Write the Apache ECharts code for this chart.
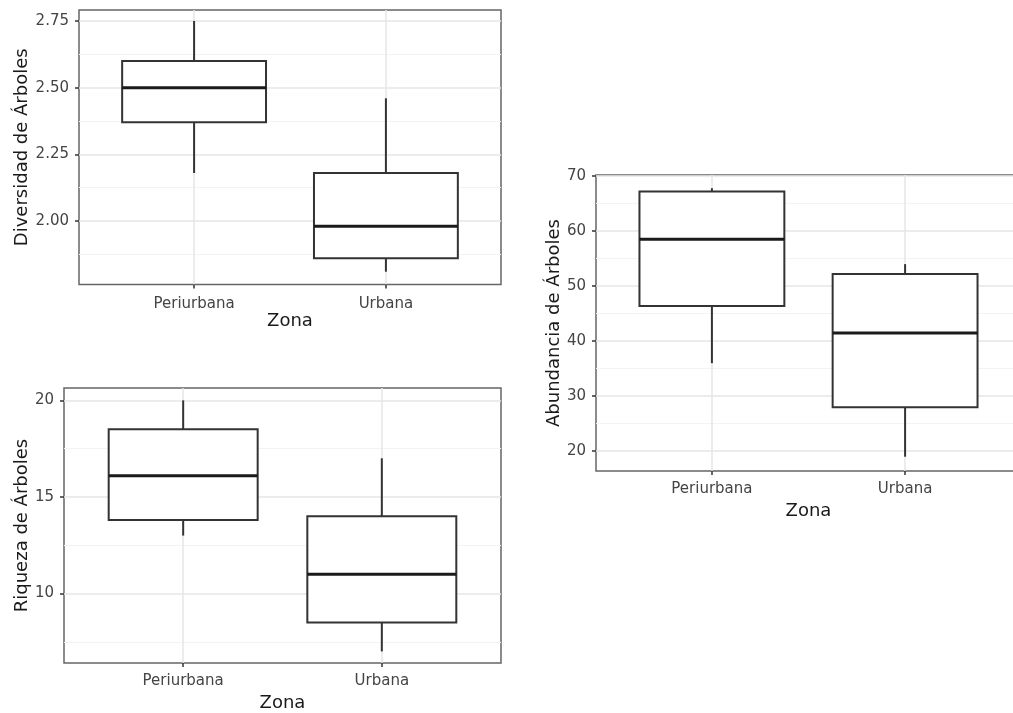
<!DOCTYPE html>
<html><head><meta charset="utf-8">
<script src="https://cdn.jsdelivr.net/npm/echarts@6/dist/echarts.min.js"></script>
<style>html,body{margin:0;padding:0;background:#fff;overflow:hidden}#c{width:1040px;height:713px}</style>
</head><body><div id="c"></div>
<script>
const categories = ['Periurbana', 'Urbana'];
const xTitle = 'Zona';
// each box: [lower whisker, Q1, median, Q3, upper whisker]
const diversidad = [[2.18, 2.37, 2.50, 2.60, 2.75], [1.81, 1.86, 1.98, 2.18, 2.46]];
const riqueza = [[13, 13.8, 16.1, 18.5, 20], [7, 8.5, 11, 14, 17]];
const abundancia = [[36, 46.4, 58.5, 67.2, 67.8], [19, 28, 41.5, 52.2, 54]];
const diversidadTicks = [2.00, 2.25, 2.50, 2.75];
const diversidadMinor = [1.875, 2.125, 2.375, 2.625];
const riquezaTicks = [10, 15, 20];
const riquezaMinor = [7.5, 12.5, 17.5];
const abundanciaTicks = [20, 30, 40, 50, 60, 70];
const abundanciaMinor = [25, 35, 45, 55, 65];

const FONT = 'DejaVu Sans';
const panels = [
  { name: 'Diversidad de Árboles', data: diversidad, ticks: diversidadTicks, minor: diversidadMinor, dec: 2,
    grid: { left: 79, top: 10, width: 422, height: 274.5 }, yMin: 1.762, yMax: 2.791, yGap: 47, xGap: 24, lm: 12 },
  { name: 'Riqueza de Árboles', data: riqueza, ticks: riquezaTicks, minor: riquezaMinor, dec: 0,
    grid: { left: 64, top: 388, width: 437, height: 276 }, yMin: 6.4, yMax: 20.64, yGap: 32, xGap: 31, lm: 11 },
  { name: 'Abundancia de Árboles', data: abundancia, ticks: abundanciaTicks, minor: abundanciaMinor, dec: 0,
    grid: { left: 596, top: 175, width: 425, height: 296 }, yMin: 16.4, yMax: 70.2, yGap: 31, xGap: 31, lm: 11 }
];

function renderBox(params, api) {
  const x = api.value(0);
  const lo = api.coord([x, api.value(1)]);
  const q1 = api.coord([x, api.value(2)]);
  const md = api.coord([x, api.value(3)]);
  const q3 = api.coord([x, api.value(4)]);
  const hi = api.coord([x, api.value(5)]);
  const w = api.size([0.75, 0])[0];
  const cx = lo[0];
  const st = { stroke: '#333333', lineWidth: 2, fill: null };
  return { type: 'group', children: [
    { type: 'line', shape: { x1: cx, y1: hi[1], x2: cx, y2: q3[1] }, style: st },
    { type: 'line', shape: { x1: cx, y1: q1[1], x2: cx, y2: lo[1] }, style: st },
    { type: 'rect', shape: { x: cx - w / 2, y: q3[1], width: w, height: q1[1] - q3[1] },
      style: { stroke: '#333333', lineWidth: 2, fill: '#ffffff' } },
    { type: 'line', shape: { x1: cx - w / 2, y1: md[1], x2: cx + w / 2, y2: md[1] },
      style: { stroke: '#1a1a1a', lineWidth: 3 } }
  ] };
}

const grids = [], xAxes = [], yAxes = [], series = [];
panels.forEach((p, i) => {
  grids.push(Object.assign({ show: true, borderColor: '#666666', borderWidth: 1.5, backgroundColor: 'transparent', containLabel: false }, p.grid));
  const catVals = categories.map((c, k) => k + 1);
  xAxes.push({
    type: 'value', gridIndex: i, min: 0.4, max: 2.6,
    name: xTitle, nameLocation: 'middle', nameGap: p.xGap,
    nameTextStyle: { fontFamily: FONT, fontSize: 18, color: '#1a1a1a' },
    axisLine: { show: false },
    axisTick: { show: true, length: 4, customValues: catVals, lineStyle: { color: '#333', width: 1.5 } },
    axisLabel: { show: true, customValues: catVals, margin: p.lm, fontFamily: FONT, fontSize: 15, color: '#444444',
      formatter: v => categories[Math.round(v) - 1] || '' },
    splitLine: { show: true, lineStyle: { color: '#e6e6e6', width: 1.5 } }
  });
  yAxes.push({
    type: 'value', gridIndex: i, min: p.yMin, max: p.yMax,
    name: p.name, nameLocation: 'middle', nameGap: p.yGap, nameRotate: 90,
    nameTextStyle: { fontFamily: FONT, fontSize: 18, color: '#1a1a1a' },
    axisLine: { show: false },
    axisTick: { show: true, length: 4, customValues: p.ticks, lineStyle: { color: '#333', width: 1.5 } },
    axisLabel: { show: true, customValues: p.ticks, margin: 10, fontFamily: FONT, fontSize: 15, color: '#444444',
      formatter: v => Number(v).toFixed(p.dec) },
    splitLine: { show: true, lineStyle: { color: '#e6e6e6', width: 1.5 } }
  });
  yAxes.push({
    type: 'value', gridIndex: i, min: p.yMin, max: p.yMax, position: 'left',
    axisLine: { show: false },
    axisTick: { show: false, customValues: p.minor },
    axisLabel: { show: false, customValues: p.minor },
    splitLine: { show: true, lineStyle: { color: '#f3f3f3', width: 1 } }
  });
  series.push({
    type: 'custom', xAxisIndex: i, yAxisIndex: i * 2, renderItem: renderBox,
    encode: { x: 0, y: [1, 2, 3, 4, 5] },
    data: p.data.map((d, k) => [k + 1].concat(d)), z: 5, silent: true
  });
});

const chart = echarts.init(document.getElementById('c'), null, { renderer: 'canvas' });
chart.setOption({ animation: false, backgroundColor: '#ffffff', grid: grids, xAxis: xAxes, yAxis: yAxes, series: series });
</script>
</body></html>
